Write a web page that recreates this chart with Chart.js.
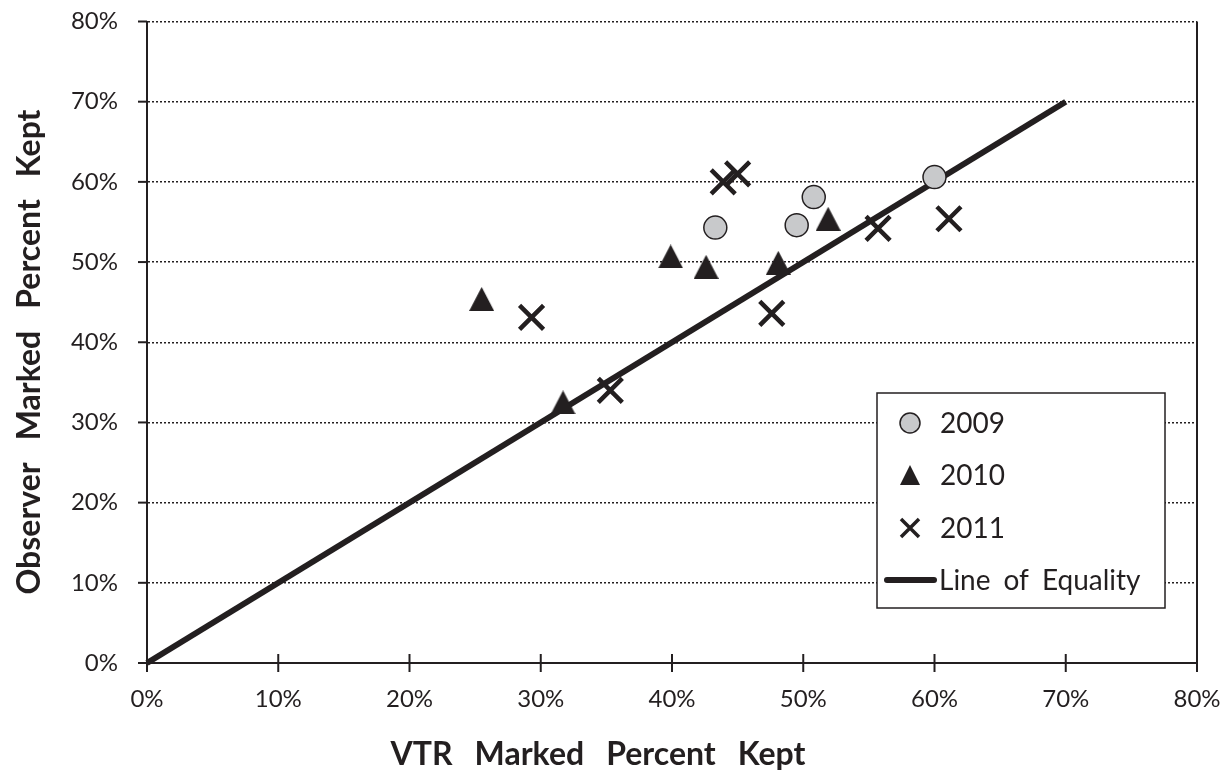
<!DOCTYPE html>
<html>
<head>
<meta charset="utf-8">
<script src="https://cdn.jsdelivr.net/npm/chart.js@4.4.0/dist/chart.umd.min.js"></script>
<style>
  html, body { margin: 0; padding: 0; background: #ffffff; }
  #wrap { width: 1232px; height: 784px; }
</style>
</head>
<body>
<div id="wrap"><canvas id="c" width="1232" height="784"></canvas></div>
<script>
// Percent kept: [VTR marked, observer marked]
const y2009 = [[43.3, 54.3], [49.5, 54.6], [50.8, 58.1], [60.0, 60.6]];
const y2010 = [[25.5, 45.4], [31.7, 32.5], [39.9, 50.7], [42.6, 49.4], [48.1, 49.9], [51.9, 55.4]];
const y2011 = [[29.3, 43.1], [35.3, 34.0], [43.9, 60.0], [45.0, 61.0], [47.6, 43.6], [55.7, 54.2], [61.1, 55.4]];
const equalityLine = [[0, 0], [70, 70]];
const seriesNames = ['2009', '2010', '2011', 'Line of Equality'];
const axisMin = 0, axisMax = 80, axisStep = 10;
const xTitle = 'VTR Marked Percent Kept';
const yTitle = 'Observer Marked Percent Kept';

const INK = '#231f20';
const FONT = 'Lato, "Open Sans", sans-serif';

const toPts = arr => arr.map(([x, y]) => ({ x, y }));

// Triangle marker centred on its bounding box
function triangleImage(w, h) {
  const cv = document.createElement('canvas');
  cv.width = w; cv.height = h;
  const g = cv.getContext('2d');
  g.fillStyle = INK;
  g.beginPath();
  g.moveTo(w / 2, 0);
  g.lineTo(w, h);
  g.lineTo(0, h);
  g.closePath();
  g.fill();
  return cv;
}
const triMarker = triangleImage(25, 24);

// Draws words with a fixed gap between them, centred on (cx, cy)
function drawSpacedText(ctx, text, cx, cy, gap) {
  const words = text.split(' ');
  const widths = words.map(w => ctx.measureText(w).width);
  const total = widths.reduce((a, b) => a + b, 0) + gap * (words.length - 1);
  let x = cx - total / 2;
  ctx.textAlign = 'left';
  ctx.textBaseline = 'middle';
  words.forEach((w, i) => { ctx.fillText(w, x, cy); x += widths[i] + gap; });
}
function drawLeftSpaced(ctx, text, x, cy, gap) {
  const words = text.split(' ');
  ctx.textAlign = 'left';
  ctx.textBaseline = 'middle';
  words.forEach(w => { ctx.fillText(w, x, cy); x += ctx.measureText(w).width + gap; });
}

const frame = {
  id: 'frame',
  afterDatasetsDraw(chart) {
    const ctx = chart.ctx;
    const a = chart.chartArea;
    const xs = chart.scales.x, ys = chart.scales.y;
    ctx.save();
    ctx.strokeStyle = INK;
    ctx.lineWidth = 2;
    // right edge of the plot frame
    ctx.beginPath();
    ctx.moveTo(a.right, a.top);
    ctx.lineTo(a.right, a.bottom);
    ctx.stroke();
    // x ticks cross the axis, y ticks sit outside
    for (let v = axisMin; v <= axisMax; v += axisStep) {
      const px = xs.getPixelForValue(v);
      ctx.beginPath();
      ctx.moveTo(px, a.bottom - 9);
      ctx.lineTo(px, a.bottom + 9);
      ctx.stroke();
      const py = ys.getPixelForValue(v);
      ctx.beginPath();
      ctx.moveTo(a.left - 9, py);
      ctx.lineTo(a.left, py);
      ctx.stroke();
    }

    // legend box
    const L = { x: 877, y: 393, w: 288, h: 215 };
    ctx.fillStyle = '#ffffff';
    ctx.fillRect(L.x, L.y, L.w, L.h);
    ctx.lineWidth = 1.5;
    ctx.strokeRect(L.x, L.y, L.w, L.h);
    const mx = 910, tx = 940;
    const rows = [423, 475, 528, 580];
    // 2009 circle
    ctx.beginPath();
    ctx.arc(mx, rows[0], 10, 0, Math.PI * 2);
    ctx.fillStyle = '#c8c9cb';
    ctx.fill();
    ctx.lineWidth = 1.5;
    ctx.strokeStyle = INK;
    ctx.stroke();
    // 2010 triangle
    ctx.fillStyle = INK;
    ctx.beginPath();
    ctx.moveTo(mx, rows[1] - 10);
    ctx.lineTo(mx + 10, rows[1] + 10);
    ctx.lineTo(mx - 10, rows[1] + 10);
    ctx.closePath();
    ctx.fill();
    // 2011 cross
    ctx.lineWidth = 3.5;
    ctx.beginPath();
    ctx.moveTo(mx - 9, rows[2] - 9); ctx.lineTo(mx + 9, rows[2] + 9);
    ctx.moveTo(mx + 9, rows[2] - 9); ctx.lineTo(mx - 9, rows[2] + 9);
    ctx.stroke();
    // line of equality
    ctx.lineWidth = 6;
    ctx.lineCap = 'round';
    ctx.beginPath();
    ctx.moveTo(887, rows[3]); ctx.lineTo(934, rows[3]);
    ctx.stroke();
    ctx.lineCap = 'butt';
    ctx.fillStyle = INK;
    ctx.font = '28px ' + FONT;
    seriesNames.forEach((n, i) => drawLeftSpaced(ctx, n, i === 3 ? 939 : tx, rows[i] + 1, 13));

    // axis titles
    ctx.font = 'bold 32px ' + FONT;
    drawSpacedText(ctx, xTitle, 598, 755, 22);
    ctx.translate(30, 352);
    ctx.rotate(-Math.PI / 2);
    drawSpacedText(ctx, yTitle, 0, 0, 22);
    ctx.restore();
  }
};

const zeroPad = s => { s.paddingTop = 0; s.paddingBottom = 0; s.paddingLeft = 0; s.paddingRight = 0; };

new Chart(document.getElementById('c'), {
  type: 'scatter',
  data: {
    datasets: [
      {
        label: seriesNames[0], data: toPts(y2009),
        pointStyle: 'circle', pointRadius: 11.5, pointHoverRadius: 11.5,
        backgroundColor: '#c8c9cb', borderColor: INK, borderWidth: 1.5
      },
      {
        label: seriesNames[1], data: toPts(y2010),
        pointStyle: triMarker, pointRadius: 12, pointHoverRadius: 12,
        backgroundColor: INK, borderColor: INK
      },
      {
        label: seriesNames[2], data: toPts(y2011),
        pointStyle: 'crossRot', pointRadius: 17, pointHoverRadius: 17,
        backgroundColor: INK, borderColor: INK, borderWidth: 4.5
      },
      {
        type: 'line', label: seriesNames[3], data: toPts(equalityLine),
        borderColor: INK, borderWidth: 6, pointRadius: 0, fill: false,
        tension: 0, clip: 4
      }
    ]
  },
  options: {
    responsive: false,
    animation: false,
    events: [],
    layout: { padding: { left: 0, top: 18, right: 35, bottom: 0 } },
    plugins: { legend: { display: false }, tooltip: { enabled: false } },
    scales: {
      x: {
        type: 'linear', min: axisMin, max: axisMax,
        afterFit: s => { s.height = 121; zeroPad(s); },
        ticks: {
          stepSize: axisStep, padding: 22, color: INK,
          font: { family: FONT, size: 24 },
          callback: v => v + '%'
        },
        grid: { display: true, drawOnChartArea: false, drawTicks: false },
        border: { display: true, color: INK, width: 2 }
      },
      y: {
        type: 'linear', min: axisMin, max: axisMax,
        afterFit: s => { s.width = 147; zeroPad(s); },
        ticks: {
          stepSize: axisStep, padding: 29, color: INK,
          font: { family: FONT, size: 24 },
          callback: v => v + '%'
        },
        grid: {
          drawTicks: false, color: c => (c.tick && c.tick.value === 0 ? 'rgba(0,0,0,0)' : INK),
          lineWidth: 1.5
        },
        border: { display: true, color: INK, width: 2, dash: [2, 2] }
      }
    }
  },
  plugins: [frame]
});
</script>
</body>
</html>
